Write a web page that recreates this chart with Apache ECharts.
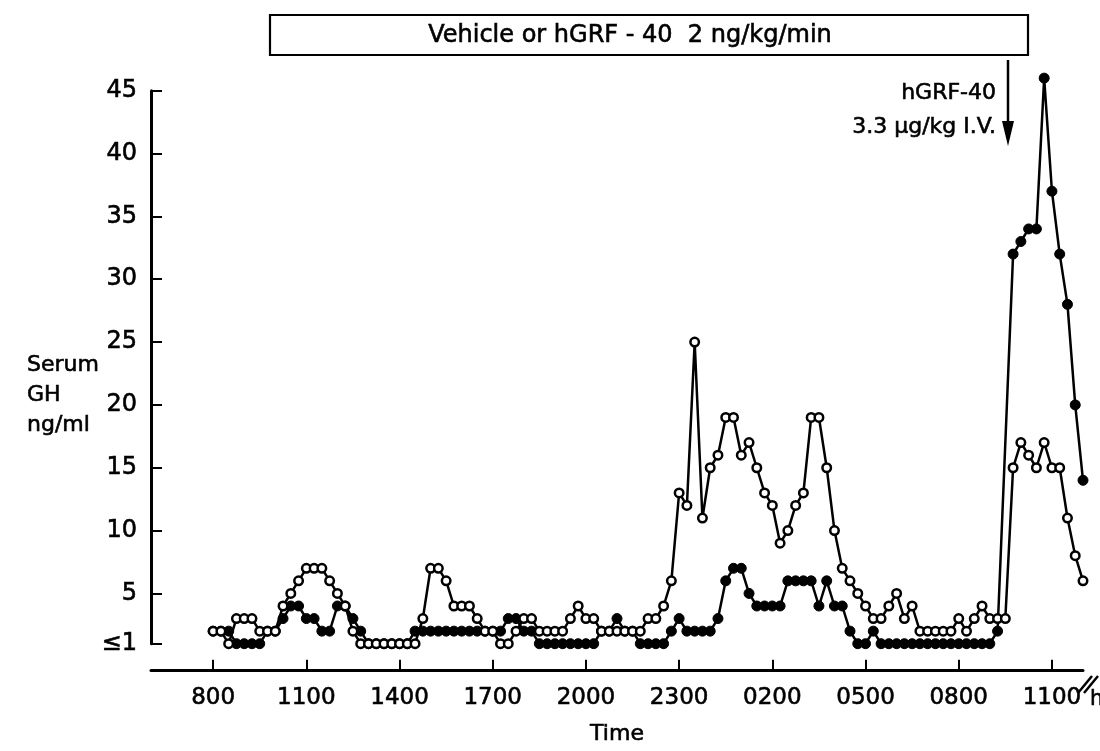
<!DOCTYPE html>
<html><head><meta charset="utf-8">
<script src="https://cdn.jsdelivr.net/npm/echarts@6/dist/echarts.min.js"></script>
<style>html,body{margin:0;padding:0;background:#fff}#c{width:1100px;height:751px}</style>
</head><body><div id="c"></div>
<script>
// sampling schedule: every 15 min starting 08:00 (hours continue past 24)
const START_HOUR = 8;
const STEP_HOURS = 0.25;

// Serum GH (ng/ml), open circles (vehicle)
const vehicleGH = [
  2,2,1,3,3,3,2,2,2,4,5,6,7,7,7,6,5,4,2,
  1,1,1,1,1,1,1,1,
  3,7,7,6,4,4,4,3,2,2,
  1,1,2,3,3,2,2,2,2,3,4,3,3,2,2,2,2,2,2,3,3,4,6,
  13,12,25,11,15,16,19,19,16,17,15,13,12,9,10,12,13,19,19,15,10,7,
  6,5,4,3,3,4,5,3,4,2,2,2,2,2,3,2,3,4,3,3,3,15,17,16,15,17,15,15,11,8,6
];
// Serum GH (ng/ml), filled circles (hGRF-40 infusion)
const hgrfGH = [
  2,2,2,1,1,1,1,2,2,3,4,4,3,3,2,2,4,4,3,2,
  1,1,1,1,1,1,
  2,2,2,2,2,2,2,2,2,2,2,2,
  3,3,2,2,
  1,1,1,1,1,1,1,1,
  2,2,3,2,2,1,1,1,1,2,3,
  2,2,2,2,3,6,7,7,5,4,4,4,4,6,6,6,6,4,6,4,4,
  2,1,1,2,1,1,1,1,1,1,1,1,1,1,1,1,1,1,1,2,
  null,
  32,33,34,34,46,37,32,28,20,14
];

const xTickHours = [8,11,14,17,20,23,26,29,32,35];
const xTickLabels = ['800','1100','1400','1700','2000','2300','0200','0500','0800','1100'];
const yTickValues = [1,5,10,15,20,25,30,35,40,45];
const yTickLabels = ['≤1','5','10','15','20','25','30','35','40','45'];

const FONT = 'DejaVu Sans';
const toPairs = arr => arr.map((v,i)=>[START_HOUR + i*STEP_HOURS, v]);
const txt = (x, y, text, size, align) => ({type:'text', x, y, style:{text, font:size+'px "DejaVu Sans"', fill:'#000',
  stroke:'#000', lineWidth:0.6, align:align||'left', verticalAlign:'middle'}});

const chart = echarts.init(document.getElementById('c'), null, {renderer:'canvas'});
chart.setOption({
  animation:false,
  backgroundColor:'#fff',
  grid:{left:151, right:17, top:90.7, bottom:92.7, containLabel:false},
  xAxis:{
    type:'value', min:6, max:36, offset:27,
    name:'Time', nameLocation:'middle', nameGap:53,
    nameTextStyle:{fontFamily:FONT, fontSize:22, color:'#000', textBorderColor:'#000', textBorderWidth:0.6},
    axisLine:{show:true, lineStyle:{color:'#000', width:3}},
    axisTick:{show:true, inside:true, length:11, lineStyle:{color:'#000', width:2}, customValues:xTickHours},
    axisLabel:{show:true, customValues:xTickHours, margin:16, fontFamily:FONT, fontSize:23, color:'#000',
      textBorderColor:'#000', textBorderWidth:0.6,
      formatter:v=>{const i=xTickHours.indexOf(v);return i>=0?xTickLabels[i]:'';}},
    splitLine:{show:false}
  },
  yAxis:{
    type:'value', min:1, max:45,
    axisLine:{show:true, lineStyle:{color:'#000', width:3}},
    axisTick:{show:true, inside:true, length:11, lineStyle:{color:'#000', width:2}, customValues:yTickValues},
    axisLabel:{show:true, customValues:yTickValues, margin:14, fontFamily:FONT, fontSize:24, color:'#000',
      textBorderColor:'#000', textBorderWidth:0.6, padding:[4,0,0,0],
      formatter:v=>{const i=yTickValues.indexOf(v);return i>=0?yTickLabels[i]:'';}},
    splitLine:{show:false}
  },
  series:[
    {name:'hGRF-40', type:'line', data:toPairs(hgrfGH), connectNulls:true, z:2, clip:false,
      symbol:'circle', symbolSize:10, showAllSymbol:true,
      lineStyle:{color:'#000', width:2.5}, itemStyle:{color:'#000', borderColor:'#000', borderWidth:1}},
    {name:'Vehicle', type:'line', data:toPairs(vehicleGH), z:3, clip:false,
      symbol:'circle', symbolSize:8.5, showAllSymbol:true,
      lineStyle:{color:'#000', width:2.5}, itemStyle:{color:'#fff', borderColor:'#000', borderWidth:2.5}}
  ],
  graphic:[
    {type:'rect', shape:{x:270, y:15, width:758, height:40}, style:{fill:'none', stroke:'#000', lineWidth:2.2}},
    txt(630, 36, 'Vehicle or hGRF - 40  2 ng/kg/min', 24, 'center'),
    {type:'line', shape:{x1:1008, y1:60, x2:1008, y2:128}, style:{stroke:'#000', lineWidth:2.5}},
    {type:'polygon', shape:{points:[[1002,121],[1014,121],[1008,146]]}, style:{fill:'#000'}},
    txt(996, 93, 'hGRF-40', 22, 'right'),
    txt(996, 127, '3.3 μg/kg I.V.', 22, 'right'),
    txt(27, 365, 'Serum', 22),
    txt(27, 395, 'GH', 22),
    txt(27, 425, 'ng/ml', 22),
    {type:'line', shape:{x1:1078, y1:693, x2:1092, y2:676}, style:{stroke:'#000', lineWidth:2.5}},
    {type:'line', shape:{x1:1084, y1:693, x2:1098, y2:676}, style:{stroke:'#000', lineWidth:2.5}},
    txt(1090, 700, 'h', 21)
  ]
});
</script>
</body></html>
